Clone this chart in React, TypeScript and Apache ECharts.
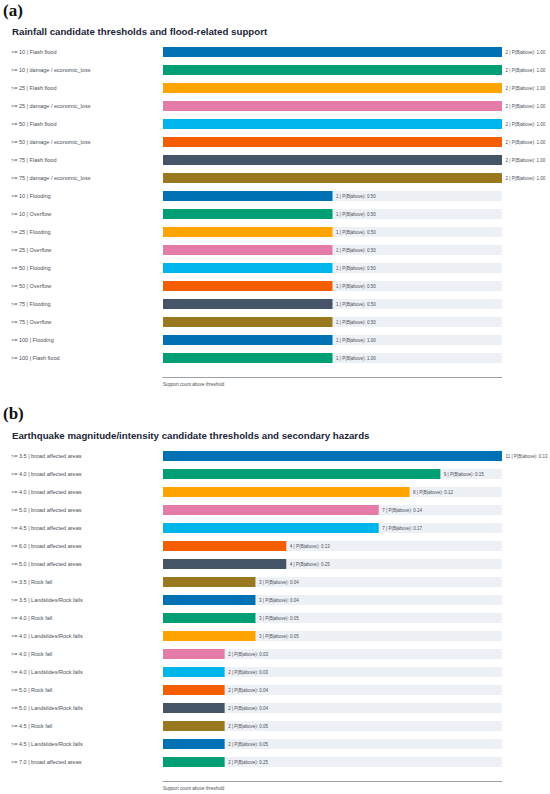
import React, { useEffect, useRef } from "react";
import * as echarts from "echarts";

const rainCategories = [
  ">= 10 | Flash flood",
  ">= 10 | damage / economic_loss",
  ">= 25 | Flash flood",
  ">= 25 | damage / economic_loss",
  ">= 50 | Flash flood",
  ">= 50 | damage / economic_loss",
  ">= 75 | Flash flood",
  ">= 75 | damage / economic_loss",
  ">= 10 | Flooding",
  ">= 10 | Overflow",
  ">= 25 | Flooding",
  ">= 25 | Overflow",
  ">= 50 | Flooding",
  ">= 50 | Overflow",
  ">= 75 | Flooding",
  ">= 75 | Overflow",
  ">= 100 | Flooding",
  ">= 100 | Flash flood",
];
const rainCounts = [2, 2, 2, 2, 2, 2, 2, 2, 1, 1, 1, 1, 1, 1, 1, 1, 1, 1];
const rainProb = ["1.00", "1.00", "1.00", "1.00", "1.00", "1.00", "1.00", "1.00", "0.50", "0.50", "0.50", "0.50", "0.50", "0.50", "0.50", "0.50", "1.00", "1.00"];

const quakeCategories = [
  ">= 3.5 | broad affected areas",
  ">= 4.0 | broad affected areas",
  ">= 4.0 | broad affected areas",
  ">= 5.0 | broad affected areas",
  ">= 4.5 | broad affected areas",
  ">= 6.0 | broad affected areas",
  ">= 5.0 | broad affected areas",
  ">= 3.5 | Rock fall",
  ">= 3.5 | Landslides/Rock falls",
  ">= 4.0 | Rock fall",
  ">= 4.0 | Landslides/Rock falls",
  ">= 4.0 | Rock fall",
  ">= 4.0 | Landslides/Rock falls",
  ">= 5.0 | Rock fall",
  ">= 5.0 | Landslides/Rock falls",
  ">= 4.5 | Rock fall",
  ">= 4.5 | Landslides/Rock falls",
  ">= 7.0 | broad affected areas",
];
const quakeCounts = [11, 9, 8, 7, 7, 4, 4, 3, 3, 3, 3, 2, 2, 2, 2, 2, 2, 2];
const quakeProb = ["0.13", "0.15", "0.12", "0.14", "0.17", "0.13", "0.25", "0.04", "0.04", "0.05", "0.05", "0.03", "0.03", "0.04", "0.04", "0.05", "0.05", "0.25"];

const palette = ["#0071b2", "#009e74", "#ffa300", "#e47ba9", "#00b4ec", "#f45d00", "#465467", "#99791f"];

const panelTitles = [
  "Rainfall candidate thresholds and flood-related support",
  "Earthquake magnitude/intensity candidate thresholds and secondary hazards",
];
const axisTitle = "Support count above threshold";

const FONT = "'Liberation Sans', Arial, sans-serif";

export default function App() {
  const ref = useRef<HTMLDivElement>(null);
  useEffect(() => {
    if (!ref.current) return;
    const chart = echarts.init(ref.current, null, { renderer: "svg" });
    const grids = [
      { left: 163, width: 339, top: 43, height: 324 },
      { left: 163, width: 339, top: 447, height: 324 },
    ];
    const cats = [rainCategories, quakeCategories];
    const counts = [rainCounts, quakeCounts];
    const probs = [rainProb, quakeProb];
    const maxes = [2, 11];

    const option: any = {
      animation: false,
      backgroundColor: "#ffffff",
      grid: grids,
      xAxis: [0, 1].map((i) => ({
        type: "value",
        gridIndex: i,
        min: 0,
        max: maxes[i],
        offset: 10,
        axisLine: { show: true, lineStyle: { color: "#9aa0a8", width: 1 } },
        axisTick: { show: false },
        axisLabel: { show: false },
        splitLine: { show: false },
      })),
      yAxis: [0, 1].map((i) => ({
        type: "category",
        gridIndex: i,
        inverse: true,
        data: cats[i],
        axisLine: { show: false },
        axisTick: { show: false },
        axisLabel: {
          align: "left",
          margin: 152,
          fontSize: 5.5,
          color: "#4a4f57",
          fontFamily: FONT,
        },
      })),
      series: [0, 1].map((i) => ({
        type: "bar",
        xAxisIndex: i,
        yAxisIndex: i,
        barWidth: 10,
        data: counts[i].map((v, j) => ({
          value: v,
          itemStyle: { color: palette[j % palette.length] },
        })),
        showBackground: true,
        backgroundStyle: { color: "#edf0f5" },
        label: {
          show: true,
          position: "right",
          distance: 3.5,
          fontSize: 4.5,
          color: "#4a4f57",
          fontFamily: FONT,
          formatter: (p: any) => `${counts[i][p.dataIndex]} | P(B|above): ${probs[i][p.dataIndex]}`,
        },
      })),
      graphic: [
        {
          type: "text",
          left: 3,
          top: 2,
          style: { text: "(a)", font: "bold 17px 'Liberation Serif', serif", fill: "#111" },
        },
        {
          type: "text",
          left: 3,
          top: 405,
          style: { text: "(b)", font: "bold 17px 'Liberation Serif', serif", fill: "#111" },
        },
        {
          type: "text",
          x: 12,
          y: 31,
          style: { text: panelTitles[0], font: `bold 9.7px ${FONT}`, fill: "#1c2536", verticalAlign: "middle" },
        },
        {
          type: "text",
          x: 12,
          y: 435.5,
          style: { text: panelTitles[1], font: `bold 9.7px ${FONT}`, fill: "#1c2536", verticalAlign: "middle" },
        },
        {
          type: "text",
          x: 163,
          y: 384,
          style: { text: axisTitle, font: `4.5px ${FONT}`, fill: "#4a4f57", verticalAlign: "middle" },
        },
        {
          type: "text",
          x: 163,
          y: 788,
          style: { text: axisTitle, font: `4.5px ${FONT}`, fill: "#4a4f57", verticalAlign: "middle" },
        },
      ],
    };
    chart.setOption(option);
    return () => chart.dispose();
  }, []);
  return (
    <div
      ref={ref}
      style={{ position: "absolute", left: 0, top: 0, width: 550, height: 794 }}
    />
  );
}
